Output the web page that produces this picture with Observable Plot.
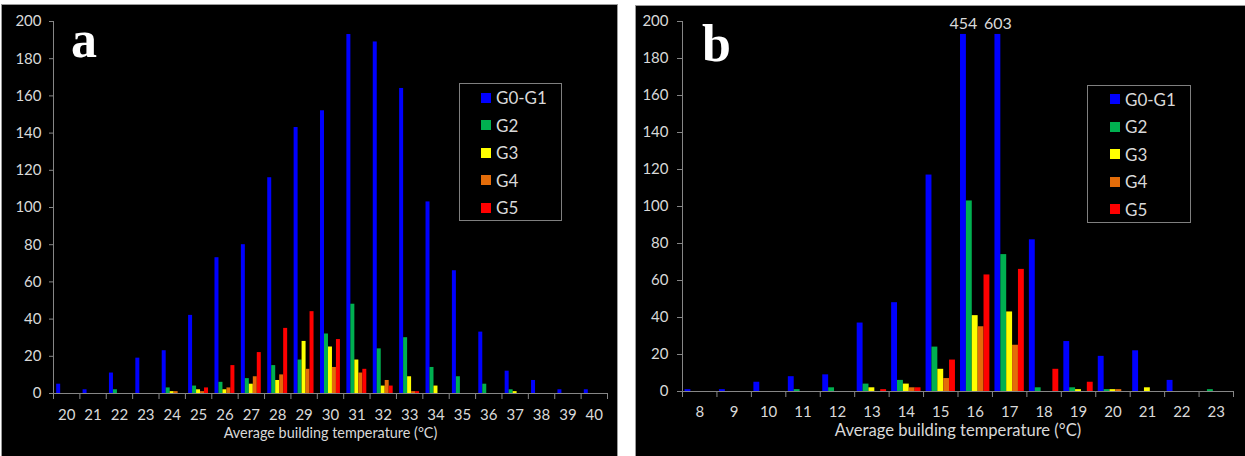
<!DOCTYPE html>
<html><head><meta charset="utf-8">
<script src="https://cdn.jsdelivr.net/npm/d3@7"></script>
<script src="https://cdn.jsdelivr.net/npm/@observablehq/plot@0.6"></script>
<style>
html,body{margin:0;padding:0;background:#fff;}
body{width:1245px;height:456px;position:relative;overflow:hidden;font-family:Lato,sans-serif;}
.panel{position:absolute;background:#000;outline:1px solid #9a9a9a;}
.panel svg{display:block;}
.legend{position:absolute;border:1px solid #7f7f7f;box-sizing:border-box;}
.item{position:absolute;color:#d9d9d9;font-size:17px;line-height:17px;white-space:nowrap;}
.sw{position:absolute;width:10px;height:10px;}
.letter{position:absolute;color:#fff;font-family:"Liberation Serif",serif;font-weight:bold;font-size:52px;line-height:52px;}
</style></head><body>
<div id="pa" class="panel" style="left:2px;top:5px;width:615px;height:451px"></div>
<div id="pb" class="panel" style="left:636px;top:6px;width:609px;height:450px"></div>
<script>
// ---- data ----
const seriesNames = ["G0-G1", "G2", "G3", "G4", "G5"];
const seriesColors = ["#0000ff", "#00b050", "#ffff00", "#e36c09", "#ff0000"];
const yTicks = [0, 20, 40, 60, 80, 100, 120, 140, 160, 180, 200];
const xTitle = "Average building temperature (\u00B0C)";

// panel a
const tempsA = [20,21,22,23,24,25,26,27,28,29,30,31,32,33,34,35,36,37,38,39,40];
const aG0G1 = [5,2,11,19,23,42,73,80,116,143,152,193,189,164,103,66,33,12,7,2,2];
const aG2   = [0,0,2,0,3,4,6,8,15,18,32,48,24,30,14,9,5,2,0,0,0];
const aG3   = [0,0,0,0,1,2,2,5,7,28,25,18,4,9,4,0,0,1,0,0,0];
const aG4   = [0,0,0,0,1,1,3,9,10,13,14,11,7,1,0,0,0,0,0,0,0];
const aG5   = [0,0,0,0,0,3,15,22,35,44,29,13,4,1,0,0,0,0,0,0,0];

// panel b
const tempsB = [8,9,10,11,12,13,14,15,16,17,18,19,20,21,22,23];
const bG0G1 = [1,1,5,8,9,37,48,117,454,603,82,27,19,22,6,0];
const bG2   = [0,0,0,1,2,4,6,24,103,74,2,2,1,0,0,1];
const bG3   = [0,0,0,0,0,2,4,12,41,43,0,1,1,2,0,0];
const bG4   = [0,0,0,0,0,0,2,7,35,25,0,0,1,0,0,0];
const bG5   = [0,0,0,0,0,1,2,17,63,66,12,5,0,0,0,0];

const axisColor = "#868686";
const textColor = "#d9d9d9";

function panel(el, cfg) {
  const {temps, series, W, H, mL, mR, mT, mB, gap, bw, cap, tickPad, titleSize, yPad, ySize} = cfg;
  const rows = [];
  series.forEach((vals, i) => vals.forEach((v, k) => rows.push({t: temps[k], s: seriesNames[i], i, v})));
  const x1 = d => d.t - 0.5 + gap + d.i * bw;
  const x2 = d => d.t - 0.5 + gap + (d.i + 1) * bw;
  const lo = temps[0] - 0.5, hi = temps[temps.length - 1] + 0.5;
  const bounds = d3.range(lo, hi + 0.01, 1);
  const big = rows.filter(d => d.v > cap);
  const chart = Plot.plot({
    width: W, height: H, marginLeft: mL, marginRight: mR, marginTop: mT, marginBottom: mB,
    style: {background: "#000", color: textColor, fontFamily: "Lato, sans-serif", fontSize: "15px", overflow: "visible"},
    x: {domain: [lo, hi]},
    y: {domain: [0, 200]},
    color: {domain: seriesNames, range: seriesColors},
    marks: [
      Plot.rectY(rows, {x1, x2, y1: 0, y2: d => Math.min(d.v, cap), fill: "s", insetLeft: 0, insetRight: 0}),
      Plot.ruleY([0], {stroke: axisColor}),
      Plot.ruleX([lo], {stroke: axisColor}),
      Plot.axisY({ticks: yTicks, tickSize: ySize, tickPadding: yPad, stroke: axisColor, fill: textColor, label: null, fontSize: 15}),
      Plot.axisX({ticks: temps, tickSize: 0, tickPadding: tickPad, fill: textColor, label: null, tickFormat: d => String(d), fontSize: 15}),
      Plot.axisX({ticks: bounds, tickSize: 6, stroke: axisColor, tickFormat: () => "", label: null}),
      Plot.text(big, {x: d => (x1(d) + x2(d)) / 2, y: 200, text: d => String(d.v), fill: textColor, fontSize: 16, dy: 2}),
      Plot.text([xTitle], {frameAnchor: "bottom", dy: 44, fill: textColor, fontSize: titleSize})
    ]
  });
  el.appendChild(chart);
}

panel(document.getElementById("pa"), {
  temps: tempsA, series: [aG0G1, aG2, aG3, aG4, aG5],
  W: 615, H: 451, mL: 51, mR: 10, mT: 16, mB: 63, gap: 0.121, bw: 0.151, cap: 1000,
  tickPad: 16, titleSize: 14.4, yPad: 8, ySize: 4
});
panel(document.getElementById("pb"), {
  temps: tempsB, series: [bG0G1, bG2, bG3, bG4, bG5],
  W: 609, H: 450, mL: 46, mR: 12, mT: 15, mB: 65, gap: 0.073, bw: 0.1706, cap: 193,
  tickPad: 15, titleSize: 16.6, yPad: 9, ySize: 5
});

// legends (HTML)
function legend(box, rowsY, swX) {
  const lg = document.createElement("div");
  lg.className = "legend";
  Object.assign(lg.style, {left: box[0] + "px", top: box[1] + "px", width: box[2] + "px", height: box[3] + "px"});
  document.body.appendChild(lg);
  seriesNames.forEach((n, i) => {
    const sw = document.createElement("div");
    sw.className = "sw";
    Object.assign(sw.style, {left: swX + "px", top: (rowsY[i] - 5) + "px", background: seriesColors[i]});
    document.body.appendChild(sw);
    const t = document.createElement("div");
    t.className = "item";
    t.textContent = n;
    Object.assign(t.style, {left: (swX + 15) + "px", top: (rowsY[i] - 8.5) + "px"});
    document.body.appendChild(t);
  });
}
legend([459, 83, 103, 138], [97.5, 125, 152.5, 180, 207.5], 481);
legend([1087, 85, 104, 138], [99, 126.5, 154, 181.5, 209], 1110);

function letter(txt, left, top) {
  const d = document.createElement("div");
  d.className = "letter";
  d.textContent = txt;
  Object.assign(d.style, {left: left + "px", top: top + "px"});
  document.body.appendChild(d);
}
letter("a", 71, 14);
letter("b", 702, 18);
</script>
</body></html>
